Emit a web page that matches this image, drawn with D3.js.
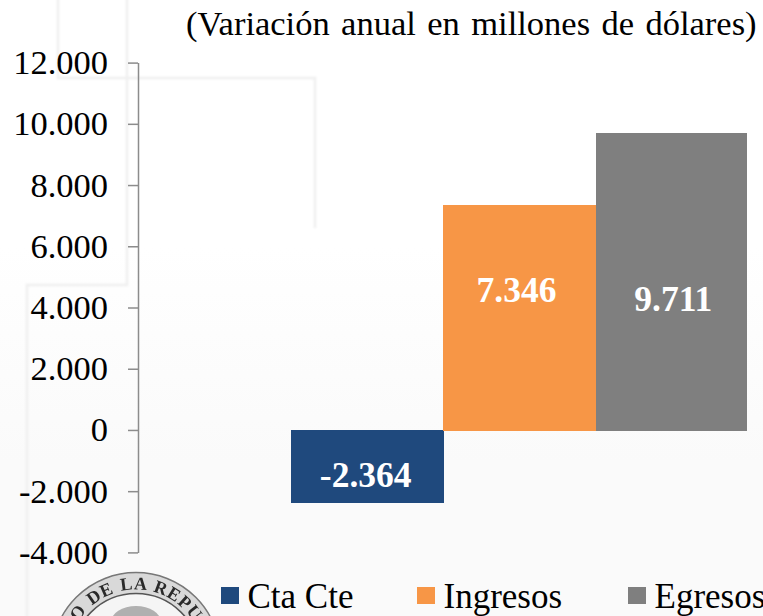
<!DOCTYPE html>
<html><head><meta charset="utf-8">
<script src="https://cdn.jsdelivr.net/npm/d3@7/dist/d3.min.js"></script>
<style>html,body{margin:0;padding:0;background:#fff}svg{display:block}text{font-family:"Liberation Serif",serif}</style>
</head><body><svg id="c" width="763" height="616"></svg>
<script>
const categories = ["Cta Cte","Ingresos","Egresos"];
const values = [-2364,7346,9711];
const valueLabels = ["-2.364","7.346","9.711"];
const colors = ["#1f497d","#f79646","#7f7f7f"];
const tickValues = [-4000,-2000,0,2000,4000,6000,8000,10000,12000];
const title = "(Variación anual en millones de dólares)";
const sealText = "O DE LA REPU";

const svg = d3.select("#c");
const defs = svg.append("defs");
const g = defs.append("linearGradient").attr("id","bg").attr("x1",0).attr("x2",0).attr("y1",0).attr("y2",1);
g.append("stop").attr("offset","0.4").attr("stop-color","#ffffff");
g.append("stop").attr("offset","0.75").attr("stop-color","#fafafa");
svg.append("rect").attr("width",763).attr("height",616).attr("fill","url(#bg)");
defs.append("filter").attr("id","soft").append("feGaussianBlur").attr("stdDeviation",0.9);
defs.append("filter").attr("id","sealBlur").append("feGaussianBlur").attr("stdDeviation",0.5);

// faint watermark frame
svg.append("path").attr("fill","none").attr("stroke","#efefef").attr("stroke-width",2.5).attr("filter","url(#soft)")
  .attr("d","M58 -5V78H315V228");
svg.append("path").attr("fill","none").attr("stroke","#efefef").attr("stroke-width",2.5).attr("filter","url(#soft)")
  .attr("d","M127 -5V285H27V620");

const y = d3.scaleLinear().domain([-4000,12000]).range([552.4,62.6]);
const x = d3.scaleBand().domain(categories).range([291,748]).padding(0);

const fmt = d => d3.format(",")(d).replace(/,/g,".").replace("\u2212","-");
const axis = d3.axisLeft(y).tickValues(tickValues).tickFormat(fmt).tickSize(10).tickSizeOuter(0).tickPadding(20);
const ag = svg.append("g").attr("transform","translate(138,0)").call(axis);
ag.select(".domain").attr("stroke","#8c8c8c").attr("stroke-width",1.5);
ag.selectAll(".tick line").attr("stroke","#8c8c8c").attr("stroke-width",1.5);
ag.selectAll(".tick text").attr("fill","#000").style("font-size","34.5px").style("font-family","Liberation Serif");

svg.selectAll("rect.bar").data(values).join("rect").attr("class","bar")
  .attr("x",(d,i)=>x(categories[i])).attr("width",(d,i)=>x.bandwidth()+[0.5,0,-0.7][i])
  .attr("y",d=>y(Math.max(d,0))).attr("height",d=>Math.abs(y(d)-y(0))+1)
  .attr("shape-rendering","crispEdges")
  .attr("fill",(d,i)=>colors[i]);

svg.selectAll("text.val").data(values).join("text").attr("class","val")
  .attr("x",(d,i)=>x(categories[i])+x.bandwidth()/2+[-1.5,-3,1.5][i])
  .attr("y",(d,i)=>[487,302,311][i])
  .attr("text-anchor","middle").attr("fill","#fff").attr("font-weight","bold")
  .style("font-size","35.5px")
  .text((d,i)=>valueLabels[i]);

svg.append("text").attr("x",186).attr("y",35).attr("fill","#000").style("font-size","34.5px").style("word-spacing","2.8px").text(title);

// legend
const legendX = [221,417,628];
const lg = svg.selectAll("g.leg").data(categories).join("g").attr("class","leg")
  .attr("transform",(d,i)=>`translate(${legendX[i]},587)`);
lg.append("rect").attr("width",18).attr("height",17).attr("fill",(d,i)=>colors[i]);
lg.append("text").attr("x",26.5).attr("y",21).attr("fill","#000").style("font-size","35px").text(d=>d);

// seal
const cx=136, cy=657, R=84.5;
const seal = svg.append("g").attr("filter","url(#sealBlur)");
seal.append("circle").attr("cx",cx).attr("cy",cy).attr("r",R).attr("fill","#d9d9d9").attr("stroke","#777").attr("stroke-width",1.5);
seal.append("circle").attr("cx",cx).attr("cy",cy).attr("r",R-21).attr("fill","#f5f5f5").attr("stroke","#555").attr("stroke-width",1.5);
seal.append("ellipse").attr("cx",cx).attr("cy",622).attr("rx",25).attr("ry",16).attr("fill","#b0b0b0");
defs.append("path").attr("id","arc").attr("d",`M${cx-R+17} ${cy}A${R-17} ${R-17} 0 0 1 ${cx+R-17} ${cy}`);
seal.append("text").attr("fill","#2a2a2a").attr("font-weight","bold").style("font-size","18px").style("letter-spacing","0.8px").style("word-spacing","1px")
  .append("textPath").attr("href","#arc").attr("startOffset","50%").attr("text-anchor","middle").text(sealText);
</script></body></html>
